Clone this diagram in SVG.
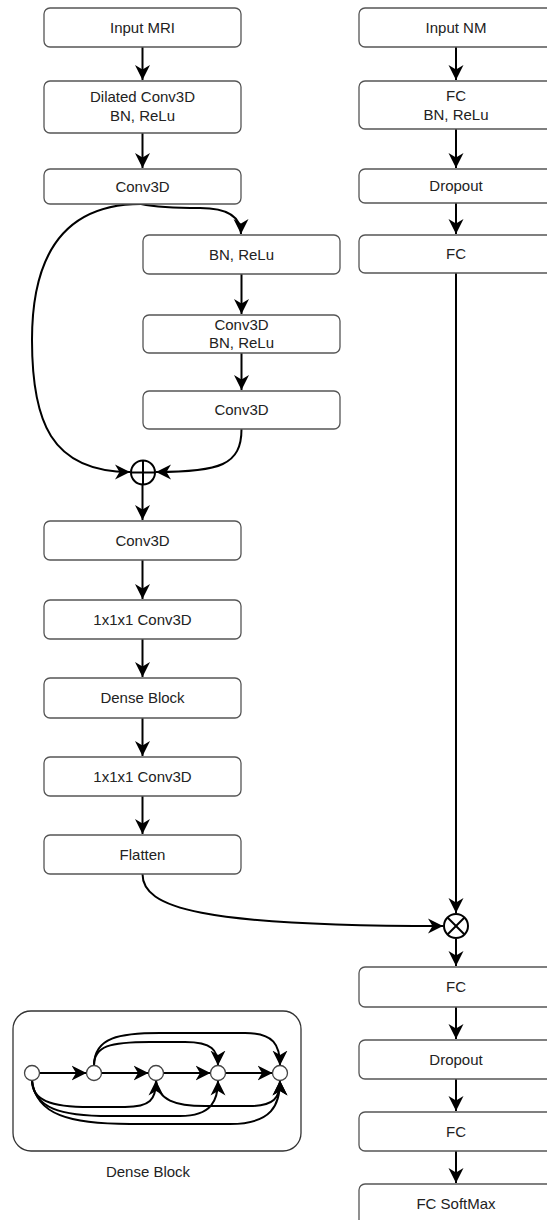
<svg xmlns="http://www.w3.org/2000/svg" width="547" height="1220" viewBox="0 0 547 1220">
<style>
.box{fill:#fff;stroke:#555;stroke-width:1.3}
.t{font-family:"Liberation Sans",Arial,sans-serif;font-size:15px;fill:#222;text-anchor:middle}
.c{fill:none;stroke:#000;stroke-width:2}
.a{fill:none;stroke:#000;stroke-width:2;marker-end:url(#arr)}
.op{fill:#fff;stroke:#000;stroke-width:2}
.dn{fill:#fff;stroke:#444;stroke-width:1.3}
</style>
<defs>
<marker id="arr" markerUnits="userSpaceOnUse" markerWidth="18" markerHeight="18" refX="15" refY="8" orient="auto">
<path d="M0,0.5 L15,8 L0,15.5 L4.5,8 Z" fill="#000"/>
</marker>
</defs>
<rect width="547" height="1220" fill="#fff"/>

<g id="connectors">
<line class="a" x1="142.5" y1="47" x2="142.5" y2="80"/>
<line class="a" x1="142.5" y1="133" x2="142.5" y2="168"/>
<path class="a" d="M141,204 Q160,208 200,208 Q241,208 241,234"/>
<line class="a" x1="241.5" y1="274" x2="241.5" y2="314"/>
<line class="a" x1="241.5" y1="353" x2="241.5" y2="390"/>
<path class="a" d="M141,204 C60,204 32,260 32,340 C32,420 50,472 130,472"/>
<path class="a" d="M241.5,429 C241.5,465 220,472 156,472"/>
<line class="a" x1="142.5" y1="485" x2="142.5" y2="520"/>
<line class="a" x1="142.5" y1="560" x2="142.5" y2="599"/>
<line class="a" x1="142.5" y1="639" x2="142.5" y2="677"/>
<line class="a" x1="142.5" y1="718" x2="142.5" y2="756"/>
<line class="a" x1="142.5" y1="796" x2="142.5" y2="834"/>
<path class="a" d="M142.5,874 C142.5,908 200,926 443,926"/>
<line class="a" x1="456" y1="47" x2="456" y2="80"/>
<line class="a" x1="456" y1="129" x2="456" y2="168"/>
<line class="a" x1="456" y1="203" x2="456" y2="234"/>
<line class="a" x1="456" y1="273" x2="456" y2="913"/>
<line class="a" x1="456" y1="939" x2="456" y2="966"/>
<line class="a" x1="456" y1="1007" x2="456" y2="1039"/>
<line class="a" x1="456" y1="1079" x2="456" y2="1111"/>
<line class="a" x1="456" y1="1151" x2="456" y2="1183"/>
</g>

<g id="n_input_mri"><rect class="box" x="44" y="8" width="197" height="39" rx="6"/><text class="t" x="142.5" y="33">Input MRI</text></g>
<g id="n_dilated"><rect class="box" x="44" y="81" width="197" height="52" rx="6"/><text class="t" x="142.5" y="102">Dilated Conv3D</text><text class="t" x="142.5" y="121">BN, ReLu</text></g>
<g id="n_conv3d_1"><rect class="box" x="44" y="169" width="197" height="35" rx="6"/><text class="t" x="142.5" y="191.5">Conv3D</text></g>
<g id="n_bn_relu"><rect class="box" x="143" y="235" width="197" height="39" rx="6"/><text class="t" x="241.5" y="260">BN, ReLu</text></g>
<g id="n_conv_bn_relu"><rect class="box" x="143" y="315" width="197" height="38" rx="6"/><text class="t" x="241.5" y="330">Conv3D</text><text class="t" x="241.5" y="348">BN, ReLu</text></g>
<g id="n_conv3d_2"><rect class="box" x="143" y="391" width="197" height="38" rx="6"/><text class="t" x="241.5" y="415">Conv3D</text></g>
<g id="n_add"><circle class="op" cx="143" cy="472.5" r="12"/><line class="c" x1="131" y1="472.5" x2="155" y2="472.5"/><line class="c" x1="143" y1="460.5" x2="143" y2="484.5"/></g>
<g id="n_conv3d_3"><rect class="box" x="44" y="521" width="197" height="39" rx="6"/><text class="t" x="142.5" y="546">Conv3D</text></g>
<g id="n_1x1_a"><rect class="box" x="44" y="600" width="197" height="39" rx="6"/><text class="t" x="142.5" y="625">1x1x1 Conv3D</text></g>
<g id="n_dense"><rect class="box" x="44" y="678" width="197" height="40" rx="6"/><text class="t" x="142.5" y="703">Dense Block</text></g>
<g id="n_1x1_b"><rect class="box" x="44" y="757" width="197" height="39" rx="6"/><text class="t" x="142.5" y="782">1x1x1 Conv3D</text></g>
<g id="n_flatten"><rect class="box" x="44" y="835" width="197" height="39" rx="6"/><text class="t" x="142.5" y="860">Flatten</text></g>

<g id="n_input_nm"><rect class="box" x="359" y="8" width="200" height="39" rx="6"/><text class="t" x="456" y="33">Input NM</text></g>
<g id="n_fc_bn"><rect class="box" x="359" y="81" width="200" height="48" rx="6"/><text class="t" x="456" y="101">FC</text><text class="t" x="456" y="120">BN, ReLu</text></g>
<g id="n_dropout_1"><rect class="box" x="359" y="169" width="200" height="34" rx="6"/><text class="t" x="456" y="191">Dropout</text></g>
<g id="n_fc_1"><rect class="box" x="359" y="235" width="200" height="38" rx="6"/><text class="t" x="456" y="259">FC</text></g>
<g id="n_mul"><circle class="op" cx="456" cy="926" r="12"/><line class="c" x1="447.5" y1="917.5" x2="464.5" y2="934.5"/><line class="c" x1="464.5" y1="917.5" x2="447.5" y2="934.5"/></g>
<g id="n_fc_2"><rect class="box" x="359" y="967" width="200" height="40" rx="6"/><text class="t" x="456" y="992">FC</text></g>
<g id="n_dropout_2"><rect class="box" x="359" y="1040" width="200" height="39" rx="6"/><text class="t" x="456" y="1065">Dropout</text></g>
<g id="n_fc_3"><rect class="box" x="359" y="1112" width="200" height="39" rx="6"/><text class="t" x="456" y="1137">FC</text></g>
<g id="n_fc_softmax"><rect class="box" x="359" y="1184" width="200" height="45" rx="6"/><text class="t" x="456" y="1209">FC SoftMax</text></g>

<g id="dense_block_inset">
<rect x="13" y="1011" width="288" height="140" rx="18" fill="#fff" stroke="#333" stroke-width="1.3"/>
<g id="dense_edges">
<line class="a" x1="39.5" y1="1073" x2="86.5" y2="1073"/>
<line class="a" x1="101.5" y1="1073" x2="148.5" y2="1073"/>
<line class="a" x1="163.5" y1="1073" x2="210.5" y2="1073"/>
<line class="a" x1="225.5" y1="1073" x2="272.5" y2="1073"/>
<path class="a" d="M94,1065.5 C94,1046 110,1042 150,1042 L185,1042 C212,1042 218,1050 218,1065.5"/>
<path class="a" d="M94,1065.5 C94,1037 120,1033 160,1033 L245,1033 C274,1033 280,1045 280,1065.5"/>
<path class="a" d="M32,1080.5 C32,1100 50,1107 90,1107 L125,1107 C150,1107 156,1100 156,1080.5"/>
<path class="a" d="M32,1080.5 C34,1108 60,1116 110,1116 L180,1116 C212,1116 218,1100 218,1080.5"/>
<path class="a" d="M32,1080.5 C36,1115 70,1124 130,1124 L230,1124 C272,1124 280,1105 280,1080.5"/>
<path class="a" d="M156,1080.5 C158,1100 175,1106 205,1106 L250,1106 C274,1106 280,1098 280,1080.5"/>
</g>
<circle class="dn" cx="32" cy="1073" r="7.5"/>
<circle class="dn" cx="94" cy="1073" r="7.5"/>
<circle class="dn" cx="156" cy="1073" r="7.5"/>
<circle class="dn" cx="218" cy="1073" r="7.5"/>
<circle class="dn" cx="280" cy="1073" r="7.5"/>
<text class="t" x="148" y="1177">Dense Block</text>
</g>
</svg>
